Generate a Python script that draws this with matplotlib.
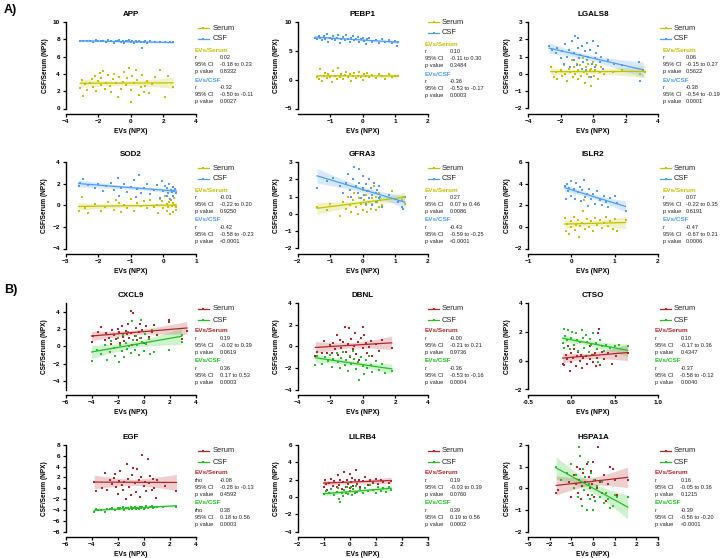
import numpy as np
import matplotlib
matplotlib.use("Agg")
import matplotlib.pyplot as plt
from matplotlib.lines import Line2D

plt.rcParams['font.family'] = ['Liberation Sans', 'DejaVu Sans']

# ---------------- data (x = EVs NPX, y = CSF/Serum NPX) ----------------
APP_SERUM = [(-3.1,2.4),(-3.0,3.3),(-2.9,1.5),(-2.8,2.8),(-2.7,2.1),(-2.5,3.0),(-2.4,3.4),(-2.3,2.5),(-2.2,3.8),(-2.1,2.0),
             (-2.0,3.2),(-1.9,4.1),(-1.8,2.7),(-1.8,3.5),(-1.7,4.3),(-1.6,2.2),(-1.5,3.0),(-1.4,3.9),(-1.3,2.6),(-1.2,1.9),
             (-1.1,3.4),(-1.0,4.0),(-0.9,2.9),(-0.8,1.3),(-0.7,3.6),(-0.6,2.3),(-0.5,3.1),(-0.4,4.2),(-0.3,2.7),(-0.2,3.5),
             (-0.1,4.7),(0.0,2.1),(0.0,0.8),(0.1,3.8),(0.2,2.9),(0.3,4.4),(0.4,3.3),(0.5,1.6),(0.6,2.5),(0.7,3.9),
             (0.8,1.9),(0.9,2.6),(1.0,3.2),(1.1,1.8),(1.3,2.8),(1.5,3.6),(1.8,4.4),(2.1,1.3),(2.3,3.7),(2.6,2.5)]
APP_CSF = [(-3.1,7.8),(-2.9,7.75),(-2.7,7.85),(-2.5,7.8),(-2.3,7.7),(-2.1,7.9),(-2.0,7.75),(-1.8,7.85),(-1.7,7.8),(-1.5,7.7),
           (-1.4,7.9),(-1.2,7.8),(-1.0,7.6),(-0.9,7.85),(-0.8,7.75),(-0.7,7.9),(-0.6,7.7),(-0.5,7.8),(-0.4,7.6),(-0.3,7.85),
           (-0.2,7.75),(-0.1,7.9),(0.0,7.7),(0.1,7.8),(0.2,7.6),(0.3,7.85),(0.4,7.7),(0.5,7.75),(0.6,7.65),(0.7,7.0),
           (0.8,7.7),(0.9,7.8),(1.0,7.6),(1.2,7.75),(1.5,7.7),(1.8,7.65),(2.1,7.7),(2.4,7.65),(2.6,7.7)]

PEBP1_SERUM = [(-1.4,0.5),(-1.35,0.2),(-1.3,1.8),(-1.25,-0.3),(-1.2,0.6),(-1.15,1.2),(-1.1,0.3),(-1.05,0.9),(-1.0,0.4),(-0.95,-0.4),
               (-0.9,1.5),(-0.85,0.7),(-0.8,0.1),(-0.75,2.0),(-0.7,0.5),(-0.65,1.0),(-0.6,0.2),(-0.55,0.8),(-0.5,1.3),(-0.45,0.4),
               (-0.4,0.9),(-0.35,-0.2),(-0.3,0.6),(-0.25,1.1),(-0.2,0.3),(-0.15,0.7),(-0.1,1.4),(-0.05,0.5),(0.0,0.0),(0.05,0.9),
               (0.1,0.6),(0.15,1.2),(0.2,0.4),(0.3,0.8),(0.4,0.3),(0.5,1.0),(0.6,0.6),(0.7,0.2),(0.8,0.9),(0.9,0.5),(1.0,0.7),(1.1,0.6)]
PEBP1_CSF = [(-1.45,7.3),(-1.4,7.0),(-1.35,7.5),(-1.3,7.2),(-1.25,6.9),(-1.2,7.6),(-1.15,7.1),(-1.1,7.9),(-1.05,6.6),(-1.0,7.3),
             (-0.95,7.0),(-0.9,7.5),(-0.85,6.8),(-0.8,7.2),(-0.75,7.7),(-0.7,6.4),(-0.65,7.1),(-0.6,7.4),(-0.55,6.9),(-0.5,7.8),
             (-0.45,7.0),(-0.4,6.5),(-0.35,7.3),(-0.3,7.6),(-0.25,6.8),(-0.2,7.1),(-0.15,7.4),(-0.1,6.6),(-0.05,7.0),(0.0,7.3),
             (0.05,6.7),(0.1,6.2),(0.15,7.0),(0.2,7.2),(0.3,6.5),(0.4,6.9),(0.5,6.4),(0.6,7.0),(0.7,6.6),(0.8,6.8),
             (0.9,6.3),(1.0,6.7),(1.05,5.9),(1.1,6.5)]

LGALS8_SERUM = [(-2.6,0.4),(-2.4,-0.2),(-2.3,0.1),(-2.2,-0.3),(-2.0,0.2),(-1.9,-0.1),(-1.8,0.5),(-1.7,0.0),(-1.6,-0.4),(-1.5,0.3),
                (-1.4,0.1),(-1.3,0.8),(-1.25,-0.2),(-1.2,0.4),(-1.1,0.0),(-1.0,0.6),(-0.95,-0.3),(-0.9,0.2),(-0.8,0.5),(-0.75,-0.1),
                (-0.7,0.3),(-0.6,0.9),(-0.55,0.1),(-0.5,-0.5),(-0.45,0.4),(-0.4,0.0),(-0.3,0.6),(-0.25,-0.2),(-0.2,0.2),(-0.15,-0.7),
                (-0.1,0.3),(0.0,0.7),(0.05,-0.1),(0.1,0.2),(0.2,0.5),(0.3,-0.3),(0.4,0.1),(0.5,0.4),(0.7,0.0),(1.2,0.1),
                (1.8,0.2),(2.9,0.0),(3.2,0.1)]
LGALS8_CSF = [(-2.7,1.6),(-2.5,1.4),(-2.3,1.2),(-2.2,1.5),(-2.0,0.9),(-1.9,1.3),(-1.8,0.6),(-1.7,1.7),(-1.6,1.0),(-1.5,1.4),
              (-1.4,0.4),(-1.3,1.9),(-1.2,0.8),(-1.15,1.2),(-1.1,2.2),(-1.0,0.5),(-0.95,1.5),(-0.9,2.1),(-0.85,0.9),(-0.8,1.1),
              (-0.7,0.3),(-0.65,1.6),(-0.6,0.7),(-0.5,1.3),(-0.45,0.2),(-0.4,1.8),(-0.35,0.8),(-0.3,1.0),(-0.2,1.4),(-0.1,-0.2),
              (-0.05,0.6),(0.0,1.9),(0.1,0.9),(0.15,0.4),(0.2,1.2),(0.3,1.6),(0.4,0.7),(0.5,1.0),(0.6,0.3),(0.9,0.8),
              (1.3,0.6),(1.8,0.5),(2.8,0.7),(2.9,-0.4),(3.1,0.2)]

SOD2_SERUM = [(-2.6,-0.5),(-2.5,0.8),(-2.4,-0.3),(-2.3,-0.7),(-2.1,0.1),(-1.9,-0.5),(-1.8,-0.2),(-1.7,0.3),(-1.5,-0.4),(-1.45,0.5),
              (-1.35,0.2),(-1.3,-0.6),(-1.2,0.0),(-1.1,-0.3),(-1.0,0.6),(-0.9,-0.5),(-0.8,0.2),(-0.7,-0.1),(-0.6,0.4),(-0.5,-0.3),
              (-0.4,0.5),(-0.3,-0.2),(-0.2,0.0),(-0.15,-0.7),(-0.1,0.6),(-0.05,0.4),(0.0,-0.3),(0.05,0.9),(0.1,-0.5),(0.12,0.1),
              (0.15,-0.2),(0.18,0.3),(0.2,-0.8),(0.22,0.5),(0.25,-0.1),(0.28,0.2),(0.3,-0.6),(0.32,0.7),(0.35,0.0),(0.38,-0.4),(0.4,-0.2)]
SOD2_CSF = [(-2.6,1.8),(-2.55,2.1),(-2.45,2.4),(-2.3,1.9),(-2.1,1.6),(-2.0,2.0),(-1.85,1.3),(-1.75,1.8),(-1.6,2.1),(-1.5,1.4),
            (-1.4,2.5),(-1.35,0.9),(-1.3,1.6),(-1.2,2.0),(-1.1,1.2),(-1.0,1.7),(-0.9,2.3),(-0.85,0.8),(-0.8,1.5),(-0.75,2.8),
            (-0.7,1.1),(-0.6,1.6),(-0.5,2.0),(-0.4,1.0),(-0.3,1.4),(-0.2,1.9),(-0.1,0.7),(-0.05,2.2),(0.0,1.3),(0.05,1.8),
            (0.1,0.9),(0.12,1.6),(0.15,1.1),(0.18,2.0),(0.2,0.6),(0.22,1.4),(0.25,1.2),(0.28,1.7),(0.3,0.9),(0.33,1.3),(0.36,1.5),(0.4,1.1)]

GFRA3_SERUM = [(-1.4,0.4),(-1.1,0.2),(-1.0,0.6),(-0.7,-0.1),(-0.6,0.7),(-0.5,0.3),(-0.45,1.0),(-0.4,0.5),(-0.35,0.1),(-0.3,0.8),
               (-0.25,1.2),(-0.2,0.4),(-0.15,0.0),(-0.1,0.9),(-0.05,0.6),(0.0,1.4),(0.0,0.2),(0.05,0.8),(0.1,0.5),(0.1,1.1),
               (0.15,0.1),(0.2,0.7),(0.2,1.3),(0.25,0.3),(0.3,0.9),(0.3,0.6),(0.35,1.6),(0.4,0.2),(0.4,1.0),(0.45,0.7),
               (0.5,0.4),(0.5,1.2),(0.55,0.8),(0.6,0.5),(0.9,1.3),(1.2,0.8),(1.25,1.0),(1.3,0.6)]
GFRA3_CSF = [(-1.4,1.5),(-1.1,1.9),(-0.9,2.1),(-0.7,1.6),(-0.6,1.2),(-0.5,1.8),(-0.45,2.3),(-0.4,1.4),(-0.35,1.0),(-0.3,2.0),
             (-0.25,2.7),(-0.2,1.6),(-0.15,1.2),(-0.1,2.6),(-0.1,1.8),(-0.05,0.9),(0.0,1.5),(0.0,2.2),(0.05,1.1),(0.1,1.7),
             (0.1,0.6),(0.15,1.3),(0.2,2.0),(0.2,0.9),(0.25,1.5),(0.3,1.1),(0.3,0.5),(0.35,1.8),(0.4,1.2),(0.4,0.7),
             (0.45,1.4),(0.5,0.9),(0.5,1.6),(0.55,1.0),(0.6,0.4),(0.8,1.1),(1.1,0.7),(1.2,0.4),(1.25,0.3),(1.3,1.0)]

ISLR2_SERUM = [(-0.15,0.8),(-0.12,-0.4),(-0.1,0.3),(-0.05,-0.7),(0.0,0.5),(0.0,0.0),(0.05,0.9),(0.08,-0.3),(0.1,0.2),(0.15,0.6),
               (0.18,-0.9),(0.2,0.1),(0.25,0.4),(0.28,1.5),(0.3,2.5),(0.32,-0.2),(0.35,0.7),(0.4,0.0),(0.45,0.5),(0.5,-0.4),
               (0.55,0.8),(0.6,0.2),(0.65,0.6),(0.7,-0.1),(0.75,0.4),(0.8,0.9),(0.85,0.1),(0.9,0.5),(0.95,-0.2),(1.0,0.7),
               (1.05,-0.4),(1.25,0.6)]
ISLR2_CSF = [(-0.15,3.8),(-0.12,2.6),(-0.1,4.0),(-0.08,3.3),(-0.05,3.6),(0.0,2.9),(0.0,4.2),(0.05,3.5),(0.08,2.6),(0.1,4.1),
             (0.15,3.2),(0.2,3.7),(0.22,2.4),(0.25,3.4),(0.3,4.3),(0.32,2.8),(0.35,3.0),(0.38,1.9),(0.4,3.5),(0.45,2.6),
             (0.5,3.0),(0.55,2.1),(0.6,3.3),(0.65,2.5),(0.7,2.0),(0.75,2.9),(0.8,2.3),(0.85,1.8),(0.9,2.7),(1.0,2.9),
             (1.05,2.2),(1.25,1.5)]

CXCL9_SERUM = [(-4.0,0.5),(-3.9,1.2),(-3.5,1.7),(-3.3,2.2),(-3.0,0.7),(-2.9,1.5),(-2.7,1.0),(-2.5,0.3),(-2.4,1.9),(-2.3,1.3),
               (-2.1,0.8),(-2.0,2.0),(-1.9,1.6),(-1.8,0.4),(-1.7,2.3),(-1.6,1.1),(-1.5,0.6),(-1.4,1.8),(-1.3,1.4),(-1.2,2.6),
               (-1.1,0.9),(-1.0,1.5),(-0.95,4.1),(-0.9,0.2),(-0.8,3.8),(-0.7,1.2),(-0.6,2.1),(-0.5,0.7),(-0.4,1.7),(-0.3,2.6),
               (-0.2,1.0),(-0.1,1.9),(0.0,0.4),(0.1,1.4),(0.2,2.3),(0.4,1.1),(0.6,1.6),(0.8,2.5),(1.0,1.3),(1.9,2.8),
               (1.9,3.0),(2.9,0.8),(3.3,1.8)]
CXCL9_CSF = [(-4.0,-1.7),(-3.6,-0.4),(-3.3,-0.9),(-3.0,0.2),(-2.8,-1.6),(-2.6,-0.7),(-2.5,0.6),(-2.3,-0.2),(-2.2,-1.1),(-2.0,0.9),
             (-1.9,-1.8),(-1.8,0.1),(-1.7,-0.5),(-1.6,1.3),(-1.5,-1.2),(-1.4,0.4),(-1.3,-0.3),(-1.2,1.6),(-1.1,0.0),(-1.0,-0.8),
             (-0.9,2.9),(-0.8,0.7),(-0.7,-0.4),(-0.6,1.2),(-0.5,0.2),(-0.4,-1.0),(-0.3,0.9),(-0.2,3.0),(-0.1,0.5),(0.0,-0.6),
             (0.1,1.4),(0.2,0.3),(0.4,0.8),(0.5,-0.9),(0.6,1.9),(0.8,-0.7),(1.9,-0.4),(2.9,0.5),(2.9,1.3)]

DBNL_SERUM = [(-2.9,-0.9),(-2.8,-0.5),(-2.5,-0.6),(-2.4,0.5),(-2.2,-0.6),(-2.0,0.1),(-1.9,-0.6),(-1.8,0.3),(-1.7,-0.3),(-1.6,1.0),
              (-1.5,-0.8),(-1.4,0.6),(-1.3,-0.2),(-1.2,0.4),(-1.1,1.8),(-1.0,-0.5),(-0.9,0.2),(-0.85,1.7),(-0.8,-1.0),(-0.7,0.7),
              (-0.6,-0.3),(-0.5,0.0),(-0.45,1.2),(-0.4,-0.7),(-0.3,0.4),(-0.2,-1.3),(-0.1,0.8),(0.0,1.8),(0.0,-0.2),(0.1,1.0),
              (0.2,0.3),(0.3,-0.6),(0.4,-0.1),(0.5,0.5),(0.6,-0.9),(0.8,0.2),(1.0,-0.4),(1.2,0.6),(1.8,-0.2)]
DBNL_CSF = [(-2.9,-1.7),(-2.8,-0.9),(-2.5,-1.6),(-2.3,-1.0),(-2.1,-1.4),(-2.0,-0.8),(-1.9,-1.9),(-1.8,-1.2),(-1.6,-0.6),(-1.5,-1.5),
            (-1.4,-2.0),(-1.3,-1.1),(-1.2,-0.5),(-1.1,-1.7),(-1.0,-1.3),(-0.9,-2.3),(-0.8,-0.9),(-0.7,-1.6),(-0.6,-0.4),(-0.5,-1.2),
            (-0.4,-2.1),(-0.3,-1.5),(-0.2,-3.1),(-0.1,-1.0),(0.0,-1.8),(0.1,-2.6),(0.2,-1.3),(0.3,-2.0),(0.4,-0.9),(0.5,-1.7),
            (0.6,-2.4),(0.8,-1.4),(1.0,-2.2),(1.2,-1.6),(1.4,-2.5),(1.8,-2.3)]

CTSO_SERUM = [(-0.1,-0.2),(-0.09,0.9),(-0.08,-0.3),(-0.06,0.4),(-0.05,0.1),(-0.04,1.0),(-0.02,-0.7),(0.0,0.5),(0.0,-0.1),(0.02,0.2),
              (0.03,0.8),(0.05,-0.4),(0.06,0.3),(0.08,0.6),(0.1,0.0),(0.11,0.4),(0.12,-0.5),(0.14,0.2),(0.15,0.9),(0.17,0.3),
              (0.18,-0.2),(0.2,0.6),(0.21,0.1),(0.22,1.0),(0.24,0.4),(0.25,-0.1),(0.27,0.5),(0.28,-0.4),(0.3,0.2),(0.31,1.9),
              (0.32,2.2),(0.33,-0.3),(0.35,0.6),(0.38,0.1),(0.42,0.5),(0.47,-0.2),(0.52,0.3),(0.65,0.5)]
CTSO_CSF = [(-0.1,1.2),(-0.09,0.9),(-0.08,2.2),(-0.07,1.7),(-0.05,1.4),(-0.04,2.1),(-0.02,0.8),(0.0,1.6),(0.01,2.0),(0.03,1.1),
            (0.05,1.9),(0.06,1.4),(0.08,0.7),(0.1,1.3),(0.12,2.1),(0.13,1.6),(0.15,0.9),(0.17,1.8),(0.18,1.3),(0.2,0.6),
            (0.21,1.5),(0.23,1.1),(0.25,1.9),(0.26,0.4),(0.28,1.2),(0.3,0.8),(0.31,-0.1),(0.33,1.4),(0.35,1.0),(0.38,0.7),
            (0.4,1.1),(0.45,0.9),(0.5,1.0),(0.55,1.1),(0.65,1.0)]

EGF_SERUM = [(-3.8,1.2),(-3.7,-0.5),(-3.2,0.1),(-3.0,2.8),(-2.8,-0.3),(-2.6,1.6),(-2.4,0.8),(-2.3,1.9),(-2.2,2.6),(-2.1,0.3),
             (-2.0,-1.0),(-1.9,1.4),(-1.8,3.2),(-1.7,0.6),(-1.6,-0.4),(-1.5,1.1),(-1.4,-2.0),(-1.3,4.5),(-1.2,1.8),(-1.1,0.2),
             (-1.0,-1.2),(-0.9,2.4),(-0.8,3.8),(-0.7,0.9),(-0.6,-0.7),(-0.5,3.6),(-0.4,1.5),(-0.3,-1.6),(-0.2,2.0),(-0.1,6.2),
             (0.0,0.5),(0.1,1.2),(0.2,-0.6),(0.3,5.5),(0.4,0.9),(0.5,2.2),(0.6,-0.3),(0.7,1.8),(0.8,0.0),(0.9,-1.8),
             (1.0,1.5),(1.6,0.5),(2.5,-0.5)]
EGF_CSF = [(-3.8,-4.4),(-3.7,-3.9),(-3.5,-4.1),(-3.3,-4.0),(-3.0,-4.4),(-2.8,-3.8),(-2.6,-3.9),(-2.4,-3.7),(-2.2,-4.1),(-2.0,-3.6),
           (-1.9,-3.9),(-1.8,-3.7),(-1.6,-3.5),(-1.5,-4.0),(-1.4,-3.7),(-1.2,-3.6),(-1.1,-3.9),(-1.0,-3.5),(-0.9,-3.8),(-0.8,-3.6),
           (-0.7,-3.4),(-0.6,-3.8),(-0.5,-3.6),(-0.4,-3.9),(-0.3,-3.5),(-0.2,-3.7),(-0.1,-3.4),(0.0,-3.8),(0.1,-3.6),(0.2,-3.3),
           (0.3,-3.7),(0.5,-3.5),(0.6,-3.2),(0.7,-3.6),(0.8,-3.4),(1.0,-3.5),(1.5,-3.4),(2.5,-3.4)]

LILRB4_SERUM = [(-1.0,1.1),(-0.95,1.9),(-0.9,1.5),(-0.85,0.8),(-0.8,1.6),(-0.7,2.1),(-0.65,1.3),(-0.6,1.8),(-0.5,1.1),(-0.45,2.5),
                (-0.4,1.4),(-0.35,1.9),(-0.3,0.9),(-0.25,1.7),(-0.2,2.9),(-0.15,1.2),(-0.1,2.0),(-0.05,1.5),(0.0,2.6),(0.0,1.0),
                (0.05,1.7),(0.1,2.2),(0.15,1.3),(0.2,1.9),(0.25,3.1),(0.3,1.5),(0.35,2.0),(0.4,1.1),(0.5,1.8),(0.6,2.3),
                (0.7,1.4),(0.8,1.9),(0.9,1.6),(1.0,2.1),(1.1,1.5),(1.2,1.9),(1.3,1.7),(1.5,1.6),(1.6,1.8)]
LILRB4_CSF = [(-1.0,0.3),(-0.9,0.7),(-0.8,0.4),(-0.7,0.9),(-0.6,0.2),(-0.5,0.6),(-0.45,1.0),(-0.4,-0.2),(-0.35,-0.6),(-0.3,0.5),
              (-0.25,0.1),(-0.2,0.8),(-0.15,0.4),(-0.1,1.1),(-0.05,0.3),(0.0,0.7),(0.05,1.2),(0.1,0.2),(0.15,0.9),(0.2,0.5),
              (0.25,1.3),(0.3,0.6),(0.4,0.9),(0.5,0.4),(0.6,1.0),(0.7,0.7),(0.8,1.4),(0.9,0.8),(1.0,0.5),(1.1,1.1),
              (1.2,0.7),(1.3,1.0),(1.4,0.6),(1.5,1.2),(1.6,0.8)]

HSPA1A_SERUM = [(-1.7,-0.2),(-1.6,-0.1),(-1.1,0.3),(-1.0,-0.4),(-0.9,0.6),(-0.8,0.2),(-0.75,1.0),(-0.7,-0.2),(-0.65,0.4),(-0.6,0.9),
                (-0.55,-0.5),(-0.5,0.1),(-0.45,0.7),(-0.4,-0.1),(-0.35,0.3),(-0.3,1.1),(-0.25,-0.3),(-0.2,0.5),(-0.15,0.0),(-0.1,0.8),
                (-0.05,0.2),(0.0,1.2),(0.05,-0.4),(0.1,0.4),(0.2,0.0),(0.25,1.9),(0.3,0.3),(0.4,-0.2),(0.5,0.6),(0.6,-0.6),
                (0.7,0.2),(0.8,1.0),(0.9,0.9),(1.0,0.4),(1.1,-0.3),(1.6,0.4)]
HSPA1A_CSF = [(-1.7,1.0),(-1.5,0.4),(-1.2,0.7),(-1.0,1.1),(-0.9,0.0),(-0.8,0.6),(-0.7,-0.4),(-0.65,1.9),(-0.6,1.5),(-0.55,0.3),
              (-0.5,-0.8),(-0.45,0.9),(-0.4,-0.1),(-0.35,0.5),(-0.3,-1.0),(-0.25,1.2),(-0.2,0.2),(-0.15,-0.5),(-0.1,0.7),(-0.05,-0.3),
              (0.0,-1.0),(0.05,0.4),(0.1,-0.6),(0.2,0.1),(0.3,-0.4),(0.4,0.3),(0.5,-0.7),(0.6,-0.2),(0.7,-0.5),(0.8,-0.9),
              (0.9,-0.8),(1.0,-0.3),(1.1,-0.4),(1.6,-0.4)]

# statistics text: (coef label, coef, 95% CI, p value) for Serum and CSF
STATS = {
    "APP":    [("r", "0.02", "-0.18 to 0.23", "0.8332"), ("r", "-0.32", "-0.50 to -0.11", "0.0027")],
    "PEBP1":  [("r", "0.10", "-0.11 to 0.30", "0.3484"), ("r", "-0.36", "-0.53 to -0.17", "0.0003")],
    "LGALS8": [("r", "0.06", "-0.15 to 0.27", "0.5622"), ("r", "-0.38", "-0.54 to -0.19", "0.0001")],
    "SOD2":   [("r", "-0.01", "-0.22 to 0.20", "0.9250"), ("r", "-0.42", "-0.58 to -0.23", "<0.0001")],
    "GFRA3":  [("r", "0.27", "0.07 to 0.46", "0.0086"), ("r", "-0.43", "-0.59 to -0.25", "<0.0001")],
    "ISLR2":  [("r", "0.07", "-0.22 to 0.35", "0.6191"), ("r", "-0.47", "-0.67 to 0.21", "0.0006")],
    "CXCL9":  [("r", "0.19", "-0.02 to 0.39", "0.0619"), ("r", "0.36", "0.17 to 0.53", "0.0003")],
    "DBNL":   [("r", "-0.00", "-0.21 to 0.21", "0.9736"), ("r", "-0.36", "-0.53 to -0.16", "0.0004")],
    "CTSO":   [("r", "0.10", "-0.17 to 0.36", "0.4347"), ("r", "-0.37", "-0.58 to -0.12", "0.0040")],
    "EGF":    [("rho", "-0.08", "-0.28 to -0.13", "0.4592"), ("rho", "0.38", "0.18 to 0.56", "0.0003")],
    "LILRB4": [("r", "0.19", "-0.03 to 0.39", "0.0760"), ("r", "0.39", "0.19 to 0.56", "0.0002")],
    "HSPA1A": [("r", "0.16", "-0.05 to 0.36", "0.1215"), ("r", "-0.39", "-0.56 to -0.20", "<0.0001")],
}

PANELS = [
    ("APP", APP_SERUM, APP_CSF, (-4, 4), [-4, -2, 0, 2, 4], (0, 10), [0, 2, 4, 6, 8, 10]),
    ("PEBP1", PEBP1_SERUM, PEBP1_CSF, (-2, 2), [-1, 0, 1, 2], (-5, 10), [-5, 0, 5, 10]),
    ("LGALS8", LGALS8_SERUM, LGALS8_CSF, (-4, 4), [-4, -2, 0, 2, 4], (-2, 3), [-2, -1, 0, 1, 2, 3]),
    ("SOD2", SOD2_SERUM, SOD2_CSF, (-3, 1), [-3, -2, -1, 0, 1], (-4, 4), [-4, -2, 0, 2, 4]),
    ("GFRA3", GFRA3_SERUM, GFRA3_CSF, (-2, 2), [-2, -1, 0, 1, 2], (-2, 3), [-2, -1, 0, 1, 2, 3]),
    ("ISLR2", ISLR2_SERUM, ISLR2_CSF, (-1, 2), [-1, 0, 1, 2], (-2, 6), [-2, 0, 2, 4, 6]),
    ("CXCL9", CXCL9_SERUM, CXCL9_CSF, (-6, 4), [-6, -4, -2, 0, 2, 4], (-5, 5), [-4, -2, 0, 2, 4]),
    ("DBNL", DBNL_SERUM, DBNL_CSF, (-4, 4), [-4, -2, 0, 2, 4], (-4, 4), [-4, -2, 0, 2, 4]),
    ("CTSO", CTSO_SERUM, CTSO_CSF, (-0.5, 1.0), [-0.5, 0.0, 0.5, 1.0], (-2, 4), [-2, 0, 2, 4]),
    ("EGF", EGF_SERUM, EGF_CSF, (-6, 4), [-6, -4, -2, 0, 2, 4], (-8, 8), [-8, -6, -4, -2, 0, 2, 4, 6, 8]),
    ("LILRB4", LILRB4_SERUM, LILRB4_CSF, (-2, 3), [-2, -1, 0, 1, 2, 3], (-4, 6), [-4, -2, 0, 2, 4, 6]),
    ("HSPA1A", HSPA1A_SERUM, HSPA1A_CSF, (-3, 3), [-3, -2, -1, 0, 1, 2, 3], (-2, 2), [-2, -1, 0, 1, 2]),
]

# ---------------- styling ----------------
W, H = 720, 558
COLORS_A = ("#c3c300", "#4f9dfb")
COLORS_B = ("#b3262b", "#22c022")

COL_LEFT = [65.5, 297.5, 528.0]
COL_W = [130.5, 130.0, 130.0]
ROW_TOP = [22.0, 162.0, 303.0, 445.0]
AX_H = 86.5
STAT_FS = 4.1

fig = plt.figure(figsize=(W / 100, H / 100), dpi=100)
fig.patch.set_facecolor("white")


def fx(x):
    return x / W


def fy(y):
    return 1 - y / H


def reg_band(x, y):
    n = len(x)
    b, a = np.polyfit(x, y, 1)
    xs = np.linspace(x.min(), x.max(), 60)
    yh = a + b * xs
    res = y - (a + b * x)
    s = np.sqrt(np.sum(res ** 2) / (n - 2))
    xm = x.mean()
    se = s * np.sqrt(1.0 / n + (xs - xm) ** 2 / np.sum((x - xm) ** 2))
    return xs, yh, yh - 2.0 * se, yh + 2.0 * se


for i, (name, ser, csf, xl, xt, yl, yt) in enumerate(PANELS):
    r, c = divmod(i, 3)
    left, top, wid = COL_LEFT[c], ROW_TOP[r], COL_W[c]
    ax = fig.add_axes([fx(left), fy(top + AX_H), wid / W, AX_H / H])
    cols = COLORS_A if r < 2 else COLORS_B
    for data, col in ((ser, cols[0]), (csf, cols[1])):
        arr = np.array(data, dtype=float)
        x, y = arr[:, 0], arr[:, 1]
        xs, yh, lo, hi = reg_band(x, y)
        ax.fill_between(xs, lo, hi, color=col, alpha=0.22, lw=0, zorder=1)
        ax.plot(xs, yh, color=col, lw=0.9, zorder=3)
        ax.plot(x, y, ls="none", marker="s", ms=1.7, mew=0, color=col, zorder=2)
    ax.set_xlim(*xl)
    ax.set_ylim(*yl)
    ax.set_xticks(xt)
    ax.set_yticks(yt)
    if name == "CTSO":
        ax.set_xticklabels(["-0.5", "0.0", "0.5", "1.0"])
    for sp in ("top", "right"):
        ax.spines[sp].set_visible(False)
    ax.spines["bottom"].set_position(("outward", 3.6))
    for sp in ("left", "bottom"):
        ax.spines[sp].set_linewidth(1.0)
    ax.tick_params(direction="out", length=2.5, width=0.9, labelsize=4.6, pad=1.5)
    for lab in ax.get_xticklabels() + ax.get_yticklabels():
        lab.set_fontweight("bold")
    ax.set_title(name, fontsize=5.8, fontweight="bold", pad=4.5)
    ax.set_xlabel("EVs (NPX)", fontsize=4.9, fontweight="bold", labelpad=2.5)
    ax.set_ylabel("CSF/Serum (NPX)", fontsize=4.7, fontweight="bold", labelpad=3)
    ax.patch.set_alpha(0)

    # legend
    right = left + wid
    L = top + (0 if name == "PEBP1" else 6)
    lx0 = right + [1.5, 0.5, 2.0][c]
    ltx = right + [16.5, 14.5, 16.0][c]
    for k, (lbl, col) in enumerate((("Serum", cols[0]), ("CSF", cols[1]))):
        yy = L + 11 * k
        fig.add_artist(Line2D([fx(lx0), fx(lx0 + 11)], [fy(yy), fy(yy)], transform=fig.transFigure,
                              color=col, lw=0.9))
        fig.add_artist(Line2D([fx(lx0 + 5.5)], [fy(yy)], transform=fig.transFigure, color=col,
                              marker="s", ms=1.8, mew=0, ls="none"))
        fig.text(fx(ltx), fy(yy), lbl, fontsize=5.4, va="center", ha="left", color="#222222")

    # stats blocks
    if c == 2 and r < 2:
        sx, vx = right + 5, right + 28
    elif c == 2:
        sx, vx = right - 3, right + 22.5
    else:
        sx, vx = right + [-1, -2.5][c], right + [24, 22.5][c]
    heads = ("EVs/Serum", "EVs/CSF")
    for k in range(2):
        base = L + 22 + 30 * k
        coef_lbl, coef, ci, p = STATS[name][k]
        fig.text(fx(sx), fy(base), heads[k], fontsize=4.6, fontweight="bold", color=cols[k],
                 va="center", ha="left")
        for j, (lab, val) in enumerate(((coef_lbl, coef), ("95% CI", ci), ("p value", p))):
            yy = base + 7.5 + 7 * j
            fig.text(fx(sx), fy(yy), lab, fontsize=STAT_FS, va="center", ha="left", color="#222222")
            fig.text(fx(vx), fy(yy), val, fontsize=STAT_FS, va="center", ha="left", color="#222222")

fig.text(fx(4), fy(10), "A)", fontsize=9, fontweight="bold", va="center", ha="left")
fig.text(fx(4), fy(290), "B)", fontsize=9, fontweight="bold", va="center", ha="left")

fig.savefig("out.png", dpi=100, facecolor="white")
